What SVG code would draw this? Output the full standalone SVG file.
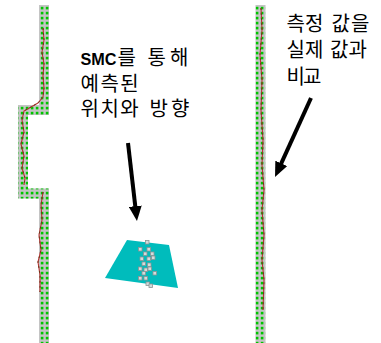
<svg xmlns="http://www.w3.org/2000/svg" width="381" height="343" viewBox="0 0 381 343">
  <defs>
    <!-- green grid points on the wall strips -->
    <pattern id="dots" patternUnits="userSpaceOnUse" x="40" y="1" width="5" height="5">
      <rect x="0.8" y="0.8" width="2.6" height="2.6" fill="#00c400"/>
    </pattern>
    <marker id="head" markerUnits="userSpaceOnUse" markerWidth="15" markerHeight="13" refX="3" refY="6.5" orient="auto">
      <path d="M0,0 L15,6.5 L0,13 z" fill="#000"/>
    </marker>
  </defs>
  <style>
    .wall { fill: none; stroke: #c4c4c4; stroke-width: 10; stroke-linejoin: miter; }
    .wallDots { fill: none; stroke: url(#dots); stroke-width: 10; stroke-linejoin: miter; }
    .trace { fill: none; stroke: #b83232; stroke-width: 1.1; stroke-linejoin: round; }
    .traceDash { fill: none; stroke: #6b3a1a; stroke-width: 1; stroke-dasharray: 2 3; }
    .label { font-family: "Noto Sans CJK KR", "Liberation Sans", sans-serif; font-size: 20px; fill: #000; }
    .latin { font-family: "Liberation Sans", Arial, sans-serif; font-size: 17px; font-weight: bold; }
    .arrow { stroke: #000; stroke-width: 4; fill: none; marker-end: url(#head); }
    .particle { fill: #d2dcdc; stroke: #8a9494; stroke-width: 0.8; }
  </style>

  <rect width="381" height="343" fill="#fff"/>

  <!-- corridor walls -->
  <g id="left-wall">
    <path class="wall" d="M44,5 V110 H23 V193.5 H44 V343"/>
    <path class="wallDots" d="M44,5 V110 H23 V193.5 H44 V343"/>
  </g>
  <g id="right-wall">
    <path class="wall" d="M260.5,5 V343"/>
    <path class="wallDots" d="M260.5,5 V343"/>
  </g>

  <!-- measured range traces along the walls -->
  <g id="traces">
    <path class="trace" d="M43,28 L44,40 L42,52 L44,64 L43,76 L44,88 L43,97 L38,103 L31,107 L24,111 L22,120 L24,132 L21,144 L24,156 L22,168 L25,178 L24,185"/>
    <path class="traceDash" d="M43,28 L44,40 L42,52 L44,64 L43,76 L44,88 L43,97 L38,103 L31,107 L24,111 L22,120 L24,132 L21,144 L24,156 L22,168 L25,178 L24,185"/>
    <path class="trace" d="M43,192 L41,205 L42,220 L39,235 L41,250 L38,262 L40,275 L40,292"/>
    <path class="traceDash" d="M43,192 L41,205 L42,220 L39,235 L41,250 L38,262 L40,275 L40,292"/>
    <path class="trace" d="M261,8 L262,30 L260,55 L262,80 L261,110 L263,140 L262,165 L264,190 L262,210 L264,235 L262,260 L264,280 L263,310"/>
    <path class="traceDash" d="M261,8 L262,30 L260,55 L262,80 L261,110 L263,140 L262,165 L264,190 L262,210 L264,235 L262,260 L264,280 L263,310"/>
  </g>

  <!-- estimated robot pose with particles -->
  <g id="robot">
    <polygon points="127,240 169,245 178,288 105,278" fill="#00bcbc"/>
    <rect class="particle" x="145.5" y="240.5" width="3.5" height="3.5"/>
    <rect class="particle" x="138.5" y="247.5" width="3.5" height="3.5"/>
    <rect class="particle" x="147" y="247.5" width="3.5" height="3.5"/>
    <rect class="particle" x="143.5" y="252" width="3.5" height="3.5"/>
    <rect class="particle" x="150.5" y="252" width="3.5" height="3.5"/>
    <rect class="particle" x="140" y="257" width="3.5" height="3.5"/>
    <rect class="particle" x="147" y="257" width="3.5" height="3.5"/>
    <rect class="particle" x="151.5" y="256" width="3.5" height="3.5"/>
    <rect class="particle" x="142" y="262" width="3.5" height="3.5"/>
    <rect class="particle" x="147.5" y="263" width="3.5" height="3.5"/>
    <rect class="particle" x="138.5" y="267" width="3.5" height="3.5"/>
    <rect class="particle" x="144" y="268" width="3.5" height="3.5"/>
    <rect class="particle" x="148" y="267" width="3.5" height="3.5"/>
    <rect class="particle" x="142" y="271.5" width="3.5" height="3.5"/>
    <rect class="particle" x="153" y="271.5" width="3.5" height="3.5"/>
    <rect class="particle" x="138.5" y="276.5" width="3.5" height="3.5"/>
    <rect class="particle" x="144" y="276.5" width="3.5" height="3.5"/>
    <rect class="particle" x="146" y="282" width="3.5" height="3.5"/>
    <rect class="particle" x="149" y="284" width="3.5" height="3.5"/>
  </g>

  <!-- annotations -->
  <g id="label-estimate">
    <text class="label" y="65"><tspan class="latin" x="80.5" textLength="36" lengthAdjust="spacingAndGlyphs">SMC</tspan><tspan x="117.5">를</tspan><tspan x="147.5" letter-spacing="4">통해</tspan></text>
    <text class="label" x="80.5" y="90.5" letter-spacing="1.5">예측된</text>
    <text class="label" y="116"><tspan x="80.5" letter-spacing="1.5">위치와</tspan><tspan x="149.5" letter-spacing="3">방향</tspan></text>
  </g>
  <g id="label-compare">
    <text class="label" y="30.5"><tspan x="286.5">측정</tspan><tspan x="331.5" letter-spacing="1">값을</tspan></text>
    <text class="label" y="56.5"><tspan x="286.5">실제</tspan><tspan x="330">값과</tspan></text>
    <text class="label" x="286.5" y="83.5" letter-spacing="-2">비교</text>
  </g>

  <g id="connectors">
    <line class="arrow" x1="128" y1="143" x2="135.6" y2="209.1"/>
    <line class="arrow" x1="311" y1="98" x2="280" y2="166.1"/>
  </g>
</svg>
